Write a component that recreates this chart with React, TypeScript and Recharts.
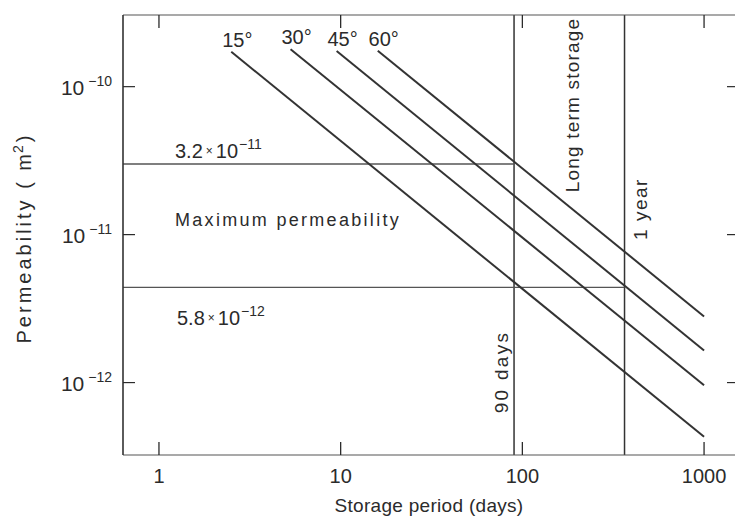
import React from 'react';
import { LineChart, Line, XAxis, YAxis, ReferenceLine, ReferenceArea } from 'recharts';

const FONT = '"Liberation Sans", Arial, sans-serif';
const INK = '#2b2b2b';

// axes: storage period (days) vs permeability (m^2), both log
const X_DOMAIN: [number, number] = [0.634, 1557];
const Y_DOMAIN: [number, number] = [3.24e-13, 3.05e-10];
const xTicks = [1, 10, 100, 1000];
const yTicks = [1e-12, 1e-11, 1e-10];

// one line per angle, start and end
const angleNames = ['15°', '30°', '45°', '60°'];
const startDays = [2.5, 5.3, 9.5, 16];
const startPerm = [1.72e-10, 1.79e-10, 1.74e-10, 1.75e-10];
const endDays = [1000, 1000, 1000, 1000];
const endPerm = [4.3e-13, 9.6e-13, 1.65e-12, 2.8e-12];

// permeability limits (where the lines are drawn) and storage marks
const upperLimit = 3.0e-11;
const lowerLimit = 4.4e-12;
const ninetyDays = 90;
const oneYear = 365;

const angleLines = angleNames.map((name, i) => ({
  name,
  data: [
    { t: startDays[i], k: startPerm[i] },
    { t: endDays[i], k: endPerm[i] },
  ],
}));
const upperSeg = [
  { t: X_DOMAIN[0], k: upperLimit },
  { t: ninetyDays, k: upperLimit },
];
const lowerSeg = [
  { t: X_DOMAIN[0], k: lowerLimit },
  { t: oneYear, k: lowerLimit },
];

const txt = { fontFamily: FONT, fill: INK };

const BottomTick = ({ x, y, payload }: any) => (
  <g>
    <line x1={x} y1={y} x2={x} y2={y - 13} stroke={INK} strokeWidth={1.3} />
    <text x={x} y={y + 28} textAnchor="middle" fontSize={20} {...txt}>
      {payload.value}
    </text>
  </g>
);

const TopTick = ({ x, y }: any) => (
  <line x1={x} y1={y} x2={x} y2={y + 13} stroke={INK} strokeWidth={1.3} />
);

const LeftTick = ({ x, y, payload }: any) => {
  const exp = Math.round(Math.log10(payload.value));
  return (
    <g>
      <line x1={x} y1={y} x2={x + 12} y2={y} stroke={INK} strokeWidth={1.2} />
      <text x={x - 11} y={y + 8} textAnchor="end" fontSize={21} {...txt}>
        10
        <tspan dx={4} dy={-9} fontSize={14}>
          {'−' + Math.abs(exp)}
        </tspan>
      </text>
    </g>
  );
};

const RightTick = ({ x, y }: any) => (
  <line x1={x} y1={y} x2={x - 12} y2={y} stroke={INK} strokeWidth={1.2} />
);

const Power = ({ x, y, mant, exp }: any) => (
  <text x={x} y={y} fontSize={20} {...txt}>
    {mant}
    <tspan dx={3} dy={-3} fontSize={12}>×</tspan>
    <tspan dx={3} dy={3}>10</tspan>
    <tspan dx={1} dy={-9} fontSize={14}>{exp}</tspan>
  </text>
);

const angleDot = (name: string) => (p: any) => {
  if (p.index !== 0) return <g key={p.key} />;
  return (
    <text key={p.key} x={p.cx + 6} y={p.cy - 5} textAnchor="middle" fontSize={20} {...txt}>
      {name}
    </text>
  );
};

const upperDot = (p: any) =>
  p.index !== 0 ? <g key={p.key} /> : (
    <g key={p.key}><Power x={p.cx + 52} y={p.cy - 6} mant="3.2" exp="−11" /></g>
  );

const lowerDot = (p: any) =>
  p.index !== 0 ? <g key={p.key} /> : (
    <g key={p.key}><Power x={p.cx + 54} y={p.cy + 38} mant="5.8" exp="−12" /></g>
  );

const vb = (p: any) => p.viewBox || p;

const xTitle = (p: any) => {
  const v = vb(p);
  return (
    <text x={v.x + v.width / 2 - 2} y={v.y + 57} textAnchor="middle" fontSize={19} letterSpacing={0.3} {...txt}>
      Storage period (days)
    </text>
  );
};

const yTitle = (p: any) => {
  const v = vb(p);
  const cx = v.x + v.width - 92;
  const cy = 238;
  return (
    <text x={cx} y={cy} transform={`rotate(-90 ${cx} ${cy})`} textAnchor="middle" fontSize={20} letterSpacing={3} {...txt}>
      Permeability ( m<tspan dx={-2} dy={-8} fontSize={14}>2</tspan><tspan dy={8}>)</tspan>
    </text>
  );
};

const rotated = (x: number, y: number, s: string, extra: any = {}) => (
  <text x={x} y={y} transform={`rotate(-90 ${x} ${y})`} textAnchor="middle" fontSize={19} {...txt} {...extra}>
    {s}
  </text>
);

const maxLabel = (p: any) => {
  const v = vb(p);
  return (
    <text x={v.x + 52} y={v.y + v.height / 2} fontSize={18} letterSpacing={2.3} {...txt}>
      Maximum permeability
    </text>
  );
};

const longTermLabel = (p: any) => {
  const v = vb(p);
  return rotated(v.x + v.width / 2 + 10, 105, 'Long term storage', { letterSpacing: 1.2 });
};

const ninetyLabel = (p: any) => {
  const v = vb(p);
  return rotated(v.x - 6, 372, '90 days', { letterSpacing: 2.3 });
};

const yearLabel = (p: any) => {
  const v = vb(p);
  return rotated(v.x + 22, 209, '1 year', { letterSpacing: 1.5 });
};

export default function App() {
  return (
    <div style={{ position: 'absolute', left: 0, top: 0, width: 735, height: 523, overflow: 'hidden', background: '#fff' }}>
      <LineChart width={740} height={523} margin={{ top: 14, right: 0, bottom: 67, left: 122 }}>
        <XAxis
          dataKey="t"
          type="number"
          scale="log"
          domain={X_DOMAIN}
          allowDataOverflow
          ticks={xTicks}
          interval={0}
          height={1}
          tickSize={0}
          tickMargin={0}
          tick={(p: any) => <BottomTick {...p} />}
          axisLine={{ stroke: '#555', strokeWidth: 1.2 }}
          label={{ content: xTitle }}
        />
        <XAxis
          xAxisId="top"
          orientation="top"
          dataKey="t"
          type="number"
          scale="log"
          domain={X_DOMAIN}
          allowDataOverflow
          ticks={xTicks}
          interval={0}
          height={1}
          tickSize={0}
          tickMargin={0}
          tick={(p: any) => <TopTick {...p} />}
          axisLine={{ stroke: '#555', strokeWidth: 1.2 }}
        />
        <YAxis
          dataKey="k"
          type="number"
          scale="log"
          domain={Y_DOMAIN}
          allowDataOverflow
          ticks={yTicks}
          interval={0}
          width={1}
          tickSize={0}
          tickMargin={0}
          tick={(p: any) => <LeftTick {...p} />}
          axisLine={{ stroke: '#333', strokeWidth: 1.6 }}
          label={{ content: yTitle }}
        />
        <YAxis
          yAxisId="right"
          orientation="right"
          dataKey="k"
          type="number"
          scale="log"
          domain={Y_DOMAIN}
          allowDataOverflow
          ticks={yTicks}
          interval={0}
          width={1}
          tickSize={0}
          tickMargin={0}
          tick={(p: any) => <RightTick {...p} />}
          axisLine={false}
        />
        <ReferenceArea
          x1={X_DOMAIN[0]}
          x2={ninetyDays}
          y1={lowerLimit}
          y2={upperLimit}
          fill="none"
          stroke="none"
          label={maxLabel}
        />
        <ReferenceArea
          x1={ninetyDays}
          x2={oneYear}
          y1={Y_DOMAIN[0]}
          y2={Y_DOMAIN[1]}
          fill="none"
          stroke="none"
          label={longTermLabel}
        />
        <ReferenceLine x={ninetyDays} stroke="#333" strokeWidth={1.5} label={ninetyLabel} />
        <ReferenceLine x={oneYear} stroke="#333" strokeWidth={1.5} label={yearLabel} />
        <Line
          data={upperSeg}
          dataKey="k"
          stroke="#555"
          strokeWidth={1.3}
          dot={upperDot}
          activeDot={false}
          isAnimationActive={false}
        />
        <Line
          data={lowerSeg}
          dataKey="k"
          stroke="#555"
          strokeWidth={1.3}
          dot={lowerDot}
          activeDot={false}
          isAnimationActive={false}
        />
        {angleLines.map((s) => (
          <Line
            key={s.name}
            data={s.data}
            dataKey="k"
            name={s.name}
            stroke="#333"
            strokeWidth={2}
            dot={angleDot(s.name)}
            activeDot={false}
            isAnimationActive={false}
          />
        ))}
      </LineChart>
    </div>
  );
}
